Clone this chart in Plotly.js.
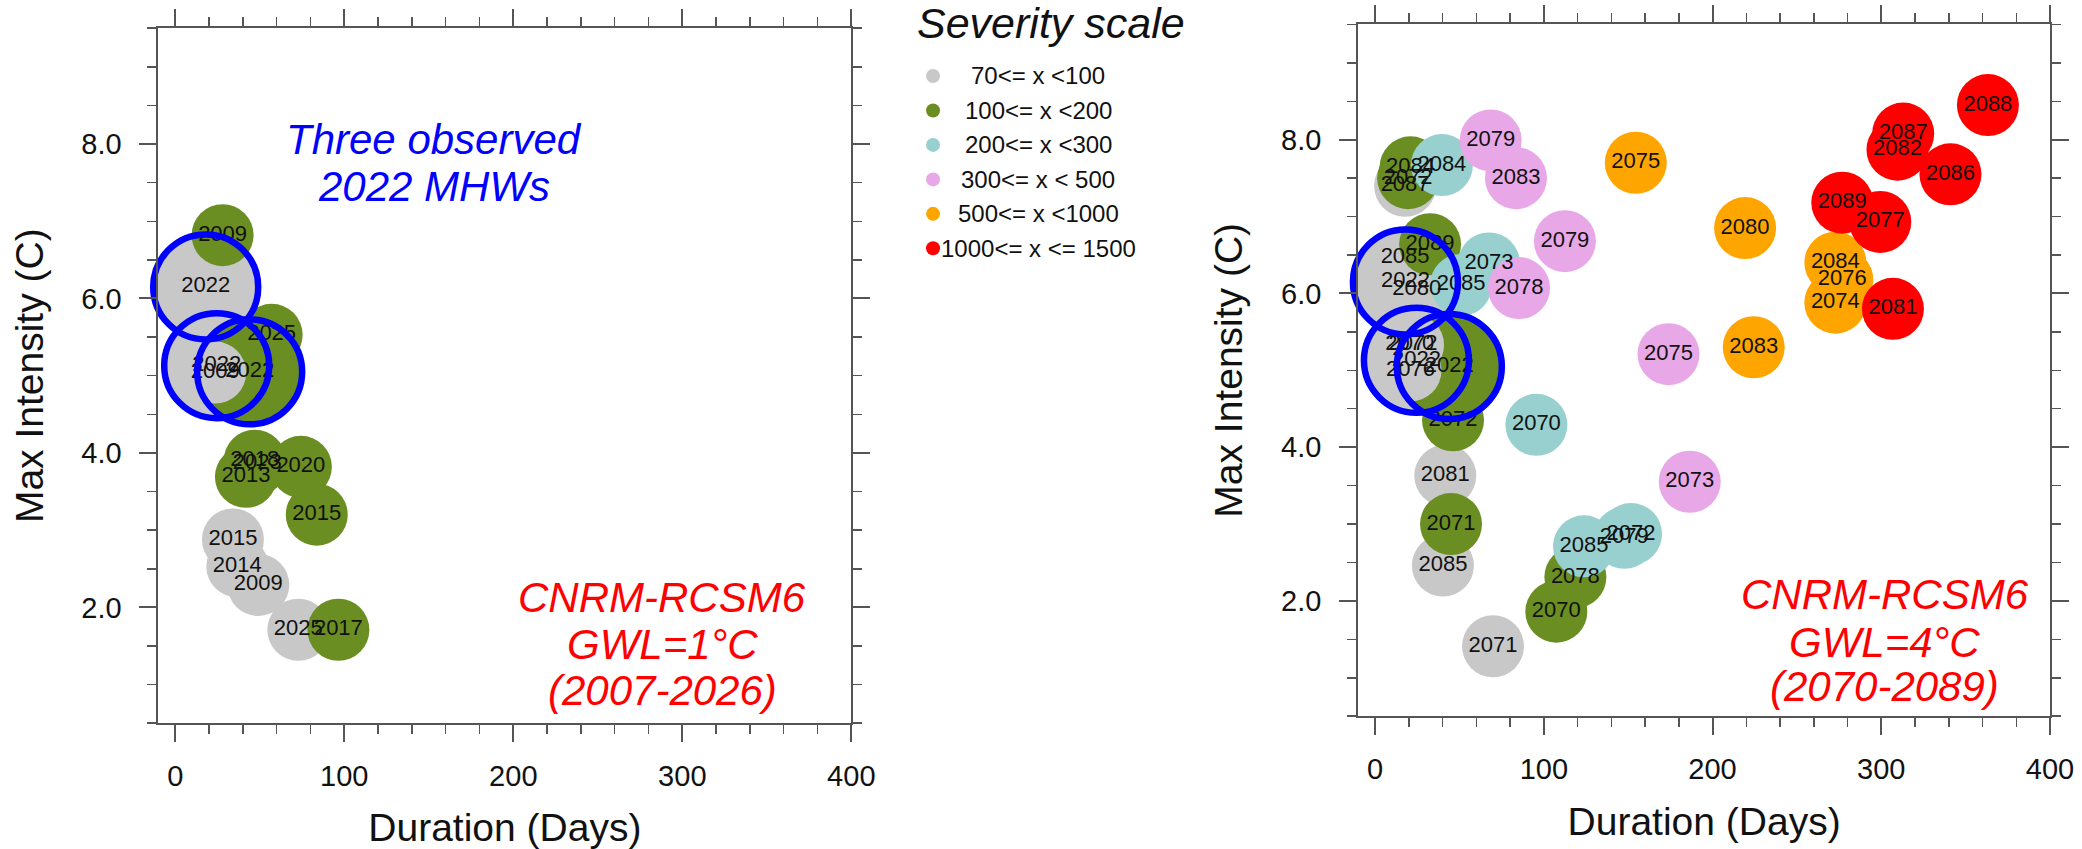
<!DOCTYPE html>
<html>
<head>
<meta charset="utf-8">
<script src="https://cdn.plot.ly/plotly-3.0.1.min.js"></script>
<style>html,body{margin:0;padding:0;background:#fff;}#chart{width:2082px;height:849px;}</style>
</head>
<body>
<div id="chart"></div>
<script>
// ---- Severity categories ----
const catLabels = ['70<= x <100', '100<= x <200', '200<= x <300', '300<= x < 500', '500<= x <1000', '1000<= x <= 1500'];
const catColors = ['#c8c8c8', '#6b8e23', '#98d0d0', '#e8a8e8', '#ffa500', '#ff0000'];

// ---- Observed 2022 MHWs (shown on both panels) ----
const obsYear = ['2022', '2022', '2022'];
const obsDur  = [18.0, 24.5, 44.0];
const obsInt  = [6.15, 5.13, 5.05];
const obsCat  = [0, 0, 1];

// ---- Left panel: CNRM-RCSM6, GWL=1°C (2007-2026) ----
const leftYear = ['2015', '2014', '2009', '2025', '2009',
                  '2009', '2025', '2018', '2023', '2013', '2020', '2015', '2017'];
const leftDur  = [34.1, 36.7, 49.1, 72.8, 23.6,
                  28.0, 57.0, 47.0, 48.5, 41.8, 74.3, 83.7, 96.5];
const leftInt  = [2.88, 2.53, 2.29, 1.71, 5.04,
                  6.82, 5.53, 3.90, 3.86, 3.69, 3.82, 3.20, 1.71];
const leftCat  = [0, 0, 0, 0, 0,
                  1, 1, 1, 1, 1, 1, 1, 1];

// ---- Right panel: CNRM-RCSM6, GWL=4°C (2070-2089) ----
const rightYear = ['2087', '2085', '2080', '2070', '2072', '2076', '2081', '2085', '2071',
                   '2084', '2072', '2089', '2072', '2071', '2078', '2070',
                   '2084', '2073', '2085', '2070', '2085', '2079', '2072',
                   '2079', '2083', '2079', '2078', '2075', '2073',
                   '2075', '2080', '2084', '2076', '2074', '2083',
                   '2088', '2087', '2082', '2086', '2089', '2077', '2081'];
const rightDur  = [17.8, 17.8, 24.7, 20.5, 22.5, 21.0, 41.6, 40.2, 69.9,
                   21.0, 19.6, 32.6, 46.2, 45.0, 118.7, 107.4,
                   39.6, 67.5, 51.0, 95.6, 123.8, 147.7, 151.7,
                   68.5, 83.5, 112.5, 85.3, 173.9, 186.5,
                   154.5, 219.3, 272.8, 276.9, 272.8, 224.4,
                   363.2, 313.0, 309.6, 341.0, 276.9, 299.4, 306.9];
const rightInt  = [7.40, 6.47, 6.05, 5.33, 5.33, 5.00, 3.63, 2.46, 1.41,
                   7.64, 7.50, 6.64, 4.35, 3.00, 2.31, 1.86,
                   7.67, 6.39, 6.11, 4.29, 2.71, 2.82, 2.87,
                   7.99, 7.50, 6.68, 6.07, 5.21, 3.55,
                   7.70, 6.85, 6.40, 6.18, 5.88, 5.30,
                   8.45, 8.08, 7.87, 7.55, 7.18, 6.93, 5.80];
const rightCat  = [0, 0, 0, 0, 0, 0, 0, 0, 0,
                   1, 1, 1, 1, 1, 1, 1,
                   2, 2, 2, 2, 2, 2, 2,
                   3, 3, 3, 3, 3, 3,
                   4, 4, 4, 4, 4, 4,
                   5, 5, 5, 5, 5, 5, 5];

// ---- Axis ticks ----
const xTickVals = [0, 100, 200, 300, 400];
const yTickVals = [2, 4, 6, 8];
const yTickText = ['2.0', '4.0', '6.0', '8.0'];

const FONT = 'Liberation Sans, Arial, Helvetica, sans-serif';
const traces = [];

function panel(years, dur, inten, cat, xa, ya) {
  // observed events: large filled circles underneath
  traces.push({
    type: 'scatter', mode: 'markers', x: obsDur, y: obsInt, xaxis: xa, yaxis: ya,
    marker: {size: 108, color: obsCat.map(c => catColors[c]), line: {width: 0}},
    hoverinfo: 'skip', showlegend: false, cliponaxis: false
  });
  // model events by severity category
  for (let c = 0; c < catLabels.length; c++) {
    const xs = [], ys = [];
    for (let i = 0; i < years.length; i++) if (cat[i] === c) { xs.push(dur[i]); ys.push(inten[i]); }
    if (!xs.length) continue;
    traces.push({
      type: 'scatter', mode: 'markers', x: xs, y: ys, xaxis: xa, yaxis: ya,
      marker: {size: 62, color: catColors[c], line: {width: 0}},
      hoverinfo: 'skip', showlegend: false, cliponaxis: false
    });
  }
  // year labels
  traces.push({
    type: 'scatter', mode: 'text', x: dur.concat(obsDur), y: inten.concat(obsInt),
    text: years.concat(obsYear), xaxis: xa, yaxis: ya,
    textposition: 'middle center', textfont: {family: FONT, size: 22, color: '#111'},
    hoverinfo: 'skip', showlegend: false, cliponaxis: false
  });
  // blue rings for the observed events
  traces.push({
    type: 'scatter', mode: 'markers', x: obsDur, y: obsInt, xaxis: xa, yaxis: ya,
    marker: {size: 105, symbol: 'circle-open', color: '#0000ff', line: {width: 6.5, color: '#0000ff'}},
    hoverinfo: 'skip', showlegend: false, cliponaxis: false
  });
}
panel(leftYear, leftDur, leftInt, leftCat, 'x', 'y');
panel(rightYear, rightDur, rightInt, rightCat, 'x2', 'y2');

// severity-scale key
const keyIdx = catLabels.map((_, i) => i);
traces.push({
  type: 'scatter', mode: 'markers', x: keyIdx.map(() => 0.118), y: keyIdx, xaxis: 'x3', yaxis: 'y3',
  marker: {size: 14, color: catColors, line: {width: 0}},
  hoverinfo: 'skip', showlegend: false, cliponaxis: false
});

function xAxis(domain, standoff) {
  return {
    domain: domain, range: [-10, 400], tickvals: xTickVals, ticktext: xTickVals.map(String),
    showline: true, mirror: 'ticks', linecolor: '#555', linewidth: 2,
    ticks: 'outside', ticklen: 17, tickwidth: 2, tickcolor: '#555', ticklabelstandoff: 9,
    minor: {dtick: 20, tick0: 0, ticks: 'outside', ticklen: 9, tickwidth: 1.5, tickcolor: '#555', showgrid: false},
    showgrid: false, zeroline: false,
    tickfont: {family: FONT, size: 29, color: '#111'},
    title: {text: 'Duration (Days)', font: {family: FONT, size: 39, color: '#111'}, standoff: standoff},
    automargin: false, fixedrange: true
  };
}
function yAxis(domain, anchor, standoff) {
  return {
    domain: domain, anchor: anchor, range: [0.5, 9.5], tickvals: yTickVals, ticktext: yTickText,
    showline: true, mirror: 'ticks', linecolor: '#555', linewidth: 2,
    ticks: 'outside', ticklen: 17, tickwidth: 2, tickcolor: '#555', ticklabelstandoff: 12,
    minor: {dtick: 0.5, tick0: 0, ticks: 'outside', ticklen: 9, tickwidth: 1.5, tickcolor: '#555', showgrid: false},
    showgrid: false, zeroline: false,
    tickfont: {family: FONT, size: 29, color: '#111'},
    title: {text: 'Max Intensity (C)', font: {family: FONT, size: 39, color: '#111'}, standoff: standoff},
    automargin: false, fixedrange: true
  };
}

const ann = [];
function addText(txt, x, y, xref, yref, size, color, italic) {
  ann.push({text: italic ? '<i>' + txt + '</i>' : txt, x: x, y: y, xref: xref, yref: yref,
    xanchor: 'center', yanchor: 'middle', showarrow: false,
    font: {family: FONT, size: size, color: color}});
}
addText('Three observed', 153, 8.06, 'x', 'y', 42, '#0000ff', true);
addText('2022 MHWs', 153, 7.45, 'x', 'y', 42, '#0000ff', true);
addText('CNRM-RCSM6', 288, 2.13, 'x', 'y', 42, '#ff0000', true);
addText('GWL=1°C', 288, 1.52, 'x', 'y', 42, '#ff0000', true);
addText('(2007-2026)', 288, 0.92, 'x', 'y', 42, '#ff0000', true);
addText('CNRM-RCSM6', 302, 2.08, 'x2', 'y2', 42, '#ff0000', true);
addText('GWL=4°C', 302, 1.46, 'x2', 'y2', 42, '#ff0000', true);
addText('(2070-2089)', 302, 0.88, 'x2', 'y2', 42, '#ff0000', true);
// key title and entries
ann.push({text: '<i>Severity scale</i>', x: 0.54, y: -1.55, xref: 'x3', yref: 'y3', xanchor: 'center', yanchor: 'middle',
  showarrow: false, font: {family: FONT, size: 43, color: '#111'}});
catLabels.forEach((lab, i) => ann.push({text: lab, x: 0.493, y: i, xref: 'x3', yref: 'y3', xanchor: 'center', yanchor: 'middle',
  showarrow: false, font: {family: FONT, size: 24, color: '#111'}}));

const layout = {
  width: 2082, height: 849, margin: {l: 0, r: 0, t: 0, b: 0},
  paper_bgcolor: '#fff', plot_bgcolor: 'rgba(0,0,0,0)', showlegend: false,
  xaxis: Object.assign(xAxis([0.07608, 0.40889], 28), {anchor: 'y'}),
  yaxis: yAxis([0.14817, 0.96678], 'x', 26),
  xaxis2: Object.assign(xAxis([0.65236, 0.98463], 24), {anchor: 'y2'}),
  yaxis2: yAxis([0.15642, 0.97126], 'x2', 26),
  xaxis3: {domain: [900/2082, 1180/2082], range: [0, 1], visible: false, anchor: 'y3', fixedrange: true},
  yaxis3: {domain: [0, 1], range: [22.43, -2.205], visible: false, anchor: 'x3', fixedrange: true},
  annotations: ann
};

Plotly.newPlot('chart', traces, layout, {staticPlot: true, displayModeBar: false});
</script>
</body>
</html>
